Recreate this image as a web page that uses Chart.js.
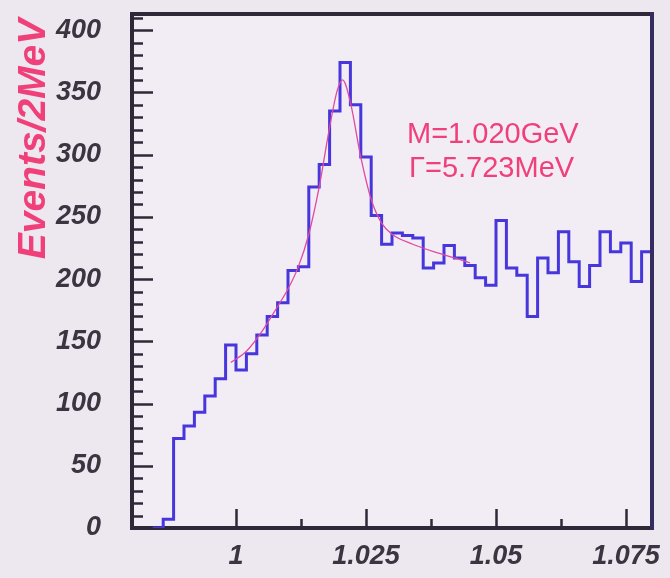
<!DOCTYPE html>
<html>
<head>
<meta charset="utf-8">
<script src="https://cdn.jsdelivr.net/npm/chart.js@4.4.0/dist/chart.umd.min.js"></script>
<style>
  html, body { margin: 0; padding: 0; background: #ede7ef; overflow: hidden; }
  #wrap { width: 670px; height: 578px; position: relative; }
</style>
</head>
<body>
<div id="wrap"><canvas id="chart"></canvas></div>
<script>
// histogram: left edge of each 2 MeV bin (GeV) and counts
const binLow = [0.984, 0.986, 0.988, 0.990, 0.992, 0.994, 0.996, 0.998, 1.000, 1.002,
  1.004, 1.006, 1.008, 1.010, 1.012, 1.014, 1.016, 1.018, 1.020, 1.022,
  1.024, 1.026, 1.028, 1.030, 1.032, 1.034, 1.036, 1.038, 1.040, 1.042,
  1.044, 1.046, 1.048, 1.050, 1.052, 1.054, 1.056, 1.058, 1.060, 1.062,
  1.064, 1.066, 1.068, 1.070, 1.072, 1.074, 1.076, 1.078];
const counts = [0, 7, 72, 82, 93, 106, 120, 147, 127, 140,
  155, 170, 181, 207, 210, 274, 292, 335, 374, 340,
  298, 251, 228, 237, 235, 233, 209, 213, 227, 217,
  211, 201, 195, 247, 209, 203, 170, 217, 205, 238,
  214, 194, 211, 238, 222, 229, 198, 222];
const xMax = 1.080;

// fitted curve
const fitMass = [0.999, 1.002, 1.005, 1.008, 1.010, 1.012, 1.014, 1.016, 1.018, 1.0195,
  1.0205, 1.022, 1.024, 1.026, 1.028, 1.030, 1.034, 1.038, 1.042, 1.045];
const fitValues = [133, 142, 158, 178, 192, 210, 236, 274, 322, 352,
  360, 342, 298, 264, 245, 236, 228, 222, 217, 213];

const xTicks = [1, 1.025, 1.05, 1.075];
const xMinorTicks = [1.0125, 1.0375, 1.0625];
const yTicks = [0, 50, 100, 150, 200, 250, 300, 350, 400];

const fitLabel1 = "M=1.020GeV";
const fitLabel2 = "\u0393=5.723MeV";
const yTitle = "Events/2MeV";

const INK = "#2e2838";
const PINK = "#f0407a";

const histPoints = binLow.map((x, i) => ({ x, y: counts[i] }));
histPoints.push({ x: xMax, y: counts[counts.length - 1] });
const fitPoints = fitMass.map((x, i) => ({ x, y: fitValues[i] }));

// frame, inward ticks and texts
const framePlugin = {
  id: "frame",
  beforeDraw(chart) {
    const { ctx, chartArea: a } = chart;
    ctx.save();
    ctx.fillStyle = "#f2edf4";
    ctx.fillRect(a.left, a.top, a.right - a.left, a.bottom - a.top);
    ctx.restore();
  },
  afterDatasetsDraw(chart) {
    const { ctx, chartArea: a, scales } = chart;
    const xs = scales.x, ys = scales.y;
    ctx.save();
    ctx.strokeStyle = INK;
    ctx.lineWidth = 2.5;
    // y ticks (minor every 10, major every 50)
    for (let v = 10; v <= 410; v += 10) {
      const py = Math.round(ys.getPixelForValue(v)) + 0.5;
      const len = v % 50 === 0 ? 21 : 11;
      ctx.beginPath();
      ctx.moveTo(a.left, py);
      ctx.lineTo(a.left + len, py);
      ctx.stroke();
    }
    // x ticks
    xTicks.forEach(v => {
      const px = Math.round(xs.getPixelForValue(v)) + 0.5;
      ctx.beginPath();
      ctx.moveTo(px, a.bottom);
      ctx.lineTo(px, a.bottom - 19);
      ctx.stroke();
    });
    xMinorTicks.forEach(v => {
      const px = Math.round(xs.getPixelForValue(v)) + 0.5;
      ctx.beginPath();
      ctx.moveTo(px, a.bottom);
      ctx.lineTo(px, a.bottom - 9);
      ctx.stroke();
    });
    ctx.restore();
  },
  afterDraw(chart) {
    const { ctx, chartArea: a, scales } = chart;
    const xr = Math.round(scales.x.getPixelForValue(xMax));
    ctx.save();
    // top and right frame
    ctx.fillStyle = INK;
    ctx.fillRect(a.left - 2, a.top - 2, xr - a.left + 4, 4);
    ctx.fillStyle = "#352d60";
    ctx.fillRect(xr - 2, a.top - 2, 4, a.bottom - a.top + 4);

    ctx.fillStyle = PINK;
    ctx.font = "29px 'Liberation Sans', Arial, sans-serif";
    ctx.textBaseline = "alphabetic";
    ctx.fillText(fitLabel1, 407, 143);
    ctx.fillText(fitLabel2, 409, 177);
    ctx.translate(34, 139);
    ctx.rotate(-Math.PI / 2);
    ctx.textAlign = "center";
    ctx.textBaseline = "middle";
    ctx.font = "italic bold 39px 'Liberation Sans', Arial, sans-serif";
    ctx.fillText(yTitle, 0, 0);
    ctx.restore();
  }
};

const tickFont = { family: "'Liberation Sans', Arial, sans-serif", size: 27, style: "italic", weight: "bold" };

new Chart(document.getElementById("chart"), {
  type: "line",
  data: {
    datasets: [
      {
        label: "fit",
        data: fitPoints,
        borderColor: "#e04aa0",
        borderWidth: 1.3,
        pointRadius: 0,
        cubicInterpolationMode: "monotone",
        fill: false
      },
      {
        label: "data",
        data: histPoints,
        borderColor: "#4636dc",
        borderWidth: 3,
        pointRadius: 0,
        stepped: "before",
        fill: false
      }
    ]
  },
  options: {
    responsive: true,
    maintainAspectRatio: false,
    animation: false,
    layout: { padding: { top: 14, right: 18, left: 0, bottom: 0 } },
    plugins: { legend: { display: false }, tooltip: { enabled: false } },
    scales: {
      x: {
        type: "linear",
        min: 0.98,
        max: xMax,
        afterBuildTicks: s => { s.ticks = xTicks.map(v => ({ value: v })); },
        afterFit: s => { s.height = 50; s.paddingLeft = 0; s.paddingRight = 0; },
        grid: { display: false, drawTicks: false },
        border: { display: true, color: INK, width: 4 },
        ticks: {
          padding: 12,
          color: "#3a3540",
          font: tickFont,
          callback: v => String(v)
        }
      },
      y: {
        min: 0,
        max: 413,
        afterBuildTicks: s => { s.ticks = yTicks.map(v => ({ value: v })); },
        afterFit: s => { s.width = 132; s.paddingTop = 0; s.paddingBottom = 0; },
        grid: { display: false, drawTicks: false },
        border: { display: true, color: INK, width: 4 },
        ticks: {
          padding: 31,
          color: "#3a3540",
          font: tickFont,
          callback: v => String(v)
        }
      }
    }
  },
  plugins: [framePlugin]
});
</script>
</body>
</html>
